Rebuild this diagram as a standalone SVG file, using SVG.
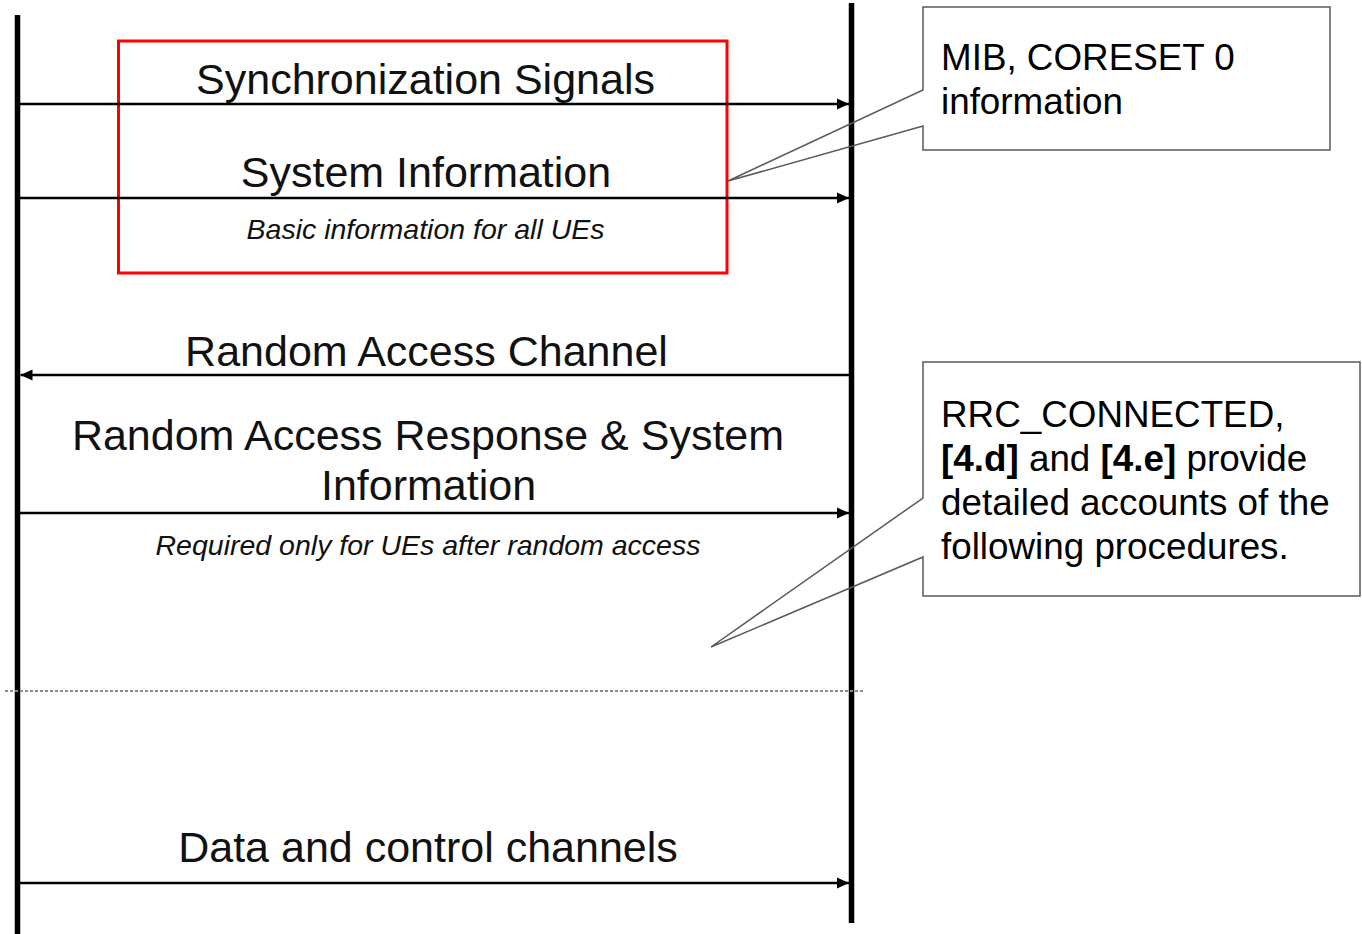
<svg xmlns="http://www.w3.org/2000/svg" width="1362" height="934" viewBox="0 0 1362 934">
  <style>
    .lbl { font-family: "Liberation Sans", Arial, Helvetica, sans-serif; font-size: 43px; fill: #111; text-anchor: middle; }
    .sub { font-family: "Liberation Sans", Arial, Helvetica, sans-serif; font-size: 28.5px; font-style: italic; fill: #111; text-anchor: middle; }
    .note { font-family: "Liberation Sans", Arial, Helvetica, sans-serif; font-size: 36.8px; fill: #000; }
    .life { stroke: #000; stroke-width: 5.5; }
    .msg { stroke: #000; stroke-width: 2.6; fill: none; }
    .callout { fill: none; stroke: #595959; stroke-width: 1.5; }
  </style>
  <defs>
    <marker id="ah" viewBox="0 0 12 12" refX="12" refY="6" markerWidth="12" markerHeight="12" markerUnits="userSpaceOnUse" orient="auto">
      <path d="M0,0.5 L12,6 L0,11.5 Z" fill="#000"/>
    </marker>
  </defs>
  <rect width="1362" height="934" fill="#fff"/>

  <g id="lifelines">
    <line class="life" x1="17.5" y1="15" x2="17.5" y2="934"/>
    <line class="life" x1="851.5" y1="3" x2="851.5" y2="923"/>
  </g>

  <g id="separator">
    <line x1="5" y1="691" x2="865" y2="691" stroke="#888" stroke-width="2" stroke-dasharray="3,2"/>
  </g>

  <g id="highlight">
    <rect x="118.5" y="41" width="608.5" height="232" fill="none" stroke="#ff0000" stroke-width="3"/>
  </g>

  <g id="connectors">
    <line class="msg" x1="20" y1="104" x2="849" y2="104" marker-end="url(#ah)"/>
    <line class="msg" x1="20" y1="198" x2="849" y2="198" marker-end="url(#ah)"/>
    <line class="msg" x1="849" y1="375" x2="20.5" y2="375" marker-end="url(#ah)"/>
    <line class="msg" x1="20" y1="513" x2="849" y2="513" marker-end="url(#ah)"/>
    <line class="msg" x1="20" y1="883" x2="849" y2="883" marker-end="url(#ah)"/>
  </g>

  <g id="msg-sync">
    <text class="lbl" x="425.5" y="94">Synchronization Signals</text>
  </g>
  <g id="msg-sysinfo">
    <text class="lbl" x="426" y="187">System Information</text>
    <text class="sub" x="425.5" y="239">Basic information for all UEs</text>
  </g>
  <g id="msg-rach">
    <text class="lbl" x="426.5" y="366">Random Access Channel</text>
  </g>
  <g id="msg-rar">
    <text class="lbl" x="428" y="450">Random Access Response &amp; System</text>
    <text class="lbl" x="428.5" y="500">Information</text>
    <text class="sub" x="428" y="555">Required only for UEs after random access</text>
  </g>
  <g id="msg-data">
    <text class="lbl" x="428" y="862">Data and control channels</text>
  </g>

  <g id="callout-mib">
    <path class="callout" d="M923,7 H1330 V150 H923 V126 L728,181 L923,90 Z"/>
    <text class="note" x="941" y="70">MIB, CORESET 0</text>
    <text class="note" x="941" y="114">information</text>
  </g>

  <g id="callout-rrc">
    <path class="callout" d="M923,362 H1360 V596 H923 V557 L711,647 L923,498 Z"/>
    <text class="note" x="941" y="427">RRC_CONNECTED,</text>
    <text class="note" x="941" y="471"><tspan font-weight="bold">[4.d]</tspan> and <tspan font-weight="bold">[4.e]</tspan> provide</text>
    <text class="note" x="941" y="515">detailed accounts of the</text>
    <text class="note" x="941" y="559">following procedures.</text>
  </g>
</svg>
